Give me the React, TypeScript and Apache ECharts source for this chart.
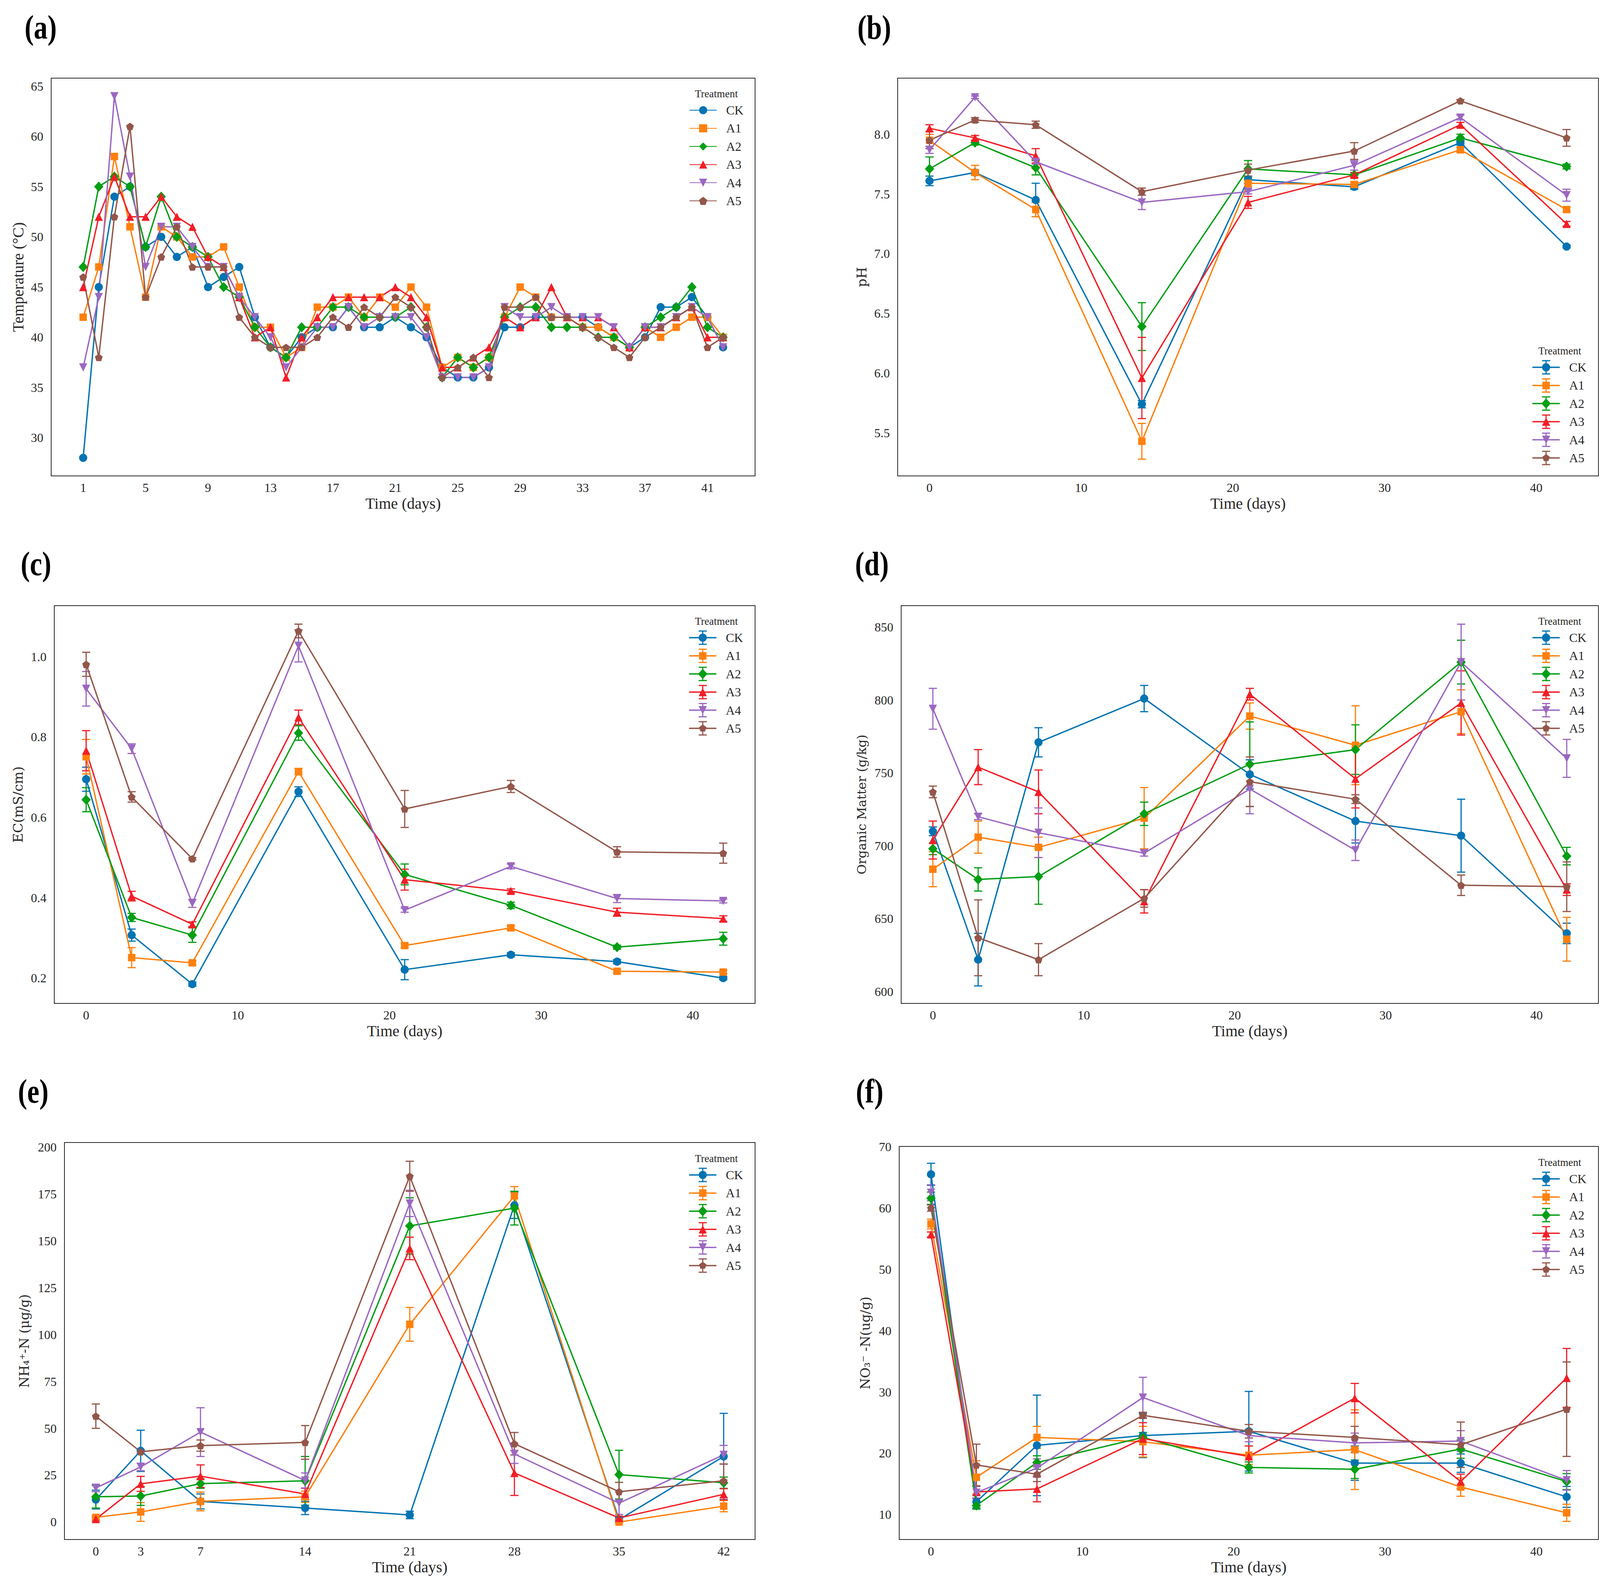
import React, { useEffect, useRef } from "react";
import * as echarts from "echarts";

// ---------------- data ----------------
const TREATMENTS = ["CK", "A1", "A2", "A3", "A4", "A5"];

const DAYS_TEMP = [1, 2, 3, 4, 5, 6, 7, 8, 9, 10, 11, 12, 13, 14, 15, 16, 17, 18, 19, 20, 21, 22, 23, 24, 25, 26, 27, 28, 29, 30, 31, 32, 33, 34, 35, 36, 37, 38, 39, 40, 41, 42];
const DAYS = [0, 3, 7, 14, 21, 28, 35, 42];

// (a) temperature
const TEMP_CK = [28, 45, 54, 55, 49, 50, 48, 49, 45, 46, 47, 42, 39, 38, 40, 41, 41, 43, 41, 41, 42, 41, 40, 37, 36, 36, 37, 41, 41, 42, 42, 42, 42, 41, 40, 39, 40, 43, 43, 44, 42, 39];
const TEMP_A1 = [42, 47, 58, 51, 44, 51, 50, 48, 48, 49, 45, 41, 41, 38, 39, 43, 43, 44, 42, 44, 43, 45, 43, 37, 38, 37, 38, 42, 45, 44, 42, 42, 41, 41, 40, 39, 41, 40, 41, 42, 42, 40];
const TEMP_A2 = [47, 55, 56, 55, 49, 54, 50, 49, 48, 45, 44, 41, 39, 38, 41, 41, 43, 43, 42, 42, 42, 43, 41, 36, 38, 37, 38, 42, 43, 43, 41, 41, 41, 40, 40, 39, 41, 42, 43, 45, 41, 40];
const TEMP_A3 = [45, 52, 56, 52, 52, 54, 52, 51, 48, 47, 44, 40, 41, 36, 40, 42, 44, 44, 44, 44, 45, 44, 42, 37, 37, 38, 39, 42, 41, 42, 45, 42, 42, 42, 41, 39, 41, 41, 42, 43, 40, 40];
const TEMP_A4 = [37, 44, 64, 56, 47, 51, 51, 49, 47, 47, 44, 42, 40, 37, 39, 41, 41, 43, 41, 42, 42, 42, 40, 36, 36, 36, 37, 43, 42, 42, 43, 42, 42, 42, 41, 39, 41, 41, 42, 43, 42, 39];
const TEMP_A5 = [46, 38, 52, 61, 44, 48, 51, 47, 47, 47, 42, 40, 39, 39, 39, 40, 42, 41, 43, 42, 44, 43, 41, 36, 37, 38, 36, 43, 43, 44, 42, 42, 41, 40, 39, 38, 40, 41, 42, 43, 39, 40];

// (b) pH
const PH_CK = [7.61, 7.68, 7.45, 5.74, 7.62, 7.56, 7.93, 7.06];
const PH_A1 = [7.95, 7.68, 7.37, 5.43, 7.59, 7.58, 7.87, 7.37];
const PH_A2 = [7.71, 7.93, 7.72, 6.39, 7.71, 7.66, 7.97, 7.73];
const PH_A3 = [8.05, 7.97, 7.82, 5.96, 7.43, 7.66, 8.08, 7.25];
const PH_A4 = [7.87, 8.31, 7.77, 7.43, 7.52, 7.74, 8.14, 7.49];
const PH_A5 = [7.95, 8.12, 8.08, 7.52, 7.7, 7.86, 8.28, 7.97];
const PH_CK_SD = [0.04, 0.02, 0.14, 0.03, 0.03, 0.02, 0.02, 0.01];
const PH_A1_SD = [0.05, 0.06, 0.06, 0.15, 0.03, 0.02, 0.02, 0.02];
const PH_A2_SD = [0.1, 0.02, 0.06, 0.2, 0.07, 0.02, 0.03, 0.02];
const PH_A3_SD = [0.03, 0.02, 0.06, 0.34, 0.05, 0.02, 0.02, 0.02];
const PH_A4_SD = [0.03, 0.01, 0.02, 0.06, 0.02, 0.04, 0.02, 0.05];
const PH_A5_SD = [0.07, 0.02, 0.03, 0.03, 0.05, 0.07, 0.01, 0.07];

// (c) EC
const EC_CK = [0.695, 0.307, 0.185, 0.664, 0.221, 0.258, 0.241, 0.2];
const EC_A1 = [0.751, 0.251, 0.238, 0.714, 0.281, 0.325, 0.217, 0.215];
const EC_A2 = [0.644, 0.351, 0.307, 0.81, 0.458, 0.381, 0.277, 0.298];
const EC_A3 = [0.766, 0.404, 0.334, 0.849, 0.445, 0.417, 0.364, 0.348];
const EC_A4 = [0.92, 0.771, 0.386, 1.027, 0.369, 0.478, 0.398, 0.392];
const EC_A5 = [0.981, 0.651, 0.497, 1.064, 0.621, 0.677, 0.514, 0.511];
const EC_CK_SD = [0.03, 0.015, 0.005, 0.012, 0.025, 0.005, 0.005, 0.004];
const EC_A1_SD = [0.043, 0.025, 0.005, 0.008, 0.005, 0.005, 0.005, 0.004];
const EC_A2_SD = [0.03, 0.01, 0.018, 0.018, 0.026, 0.008, 0.005, 0.016];
const EC_A3_SD = [0.05, 0.012, 0.006, 0.018, 0.026, 0.005, 0.01, 0.007];
const EC_A4_SD = [0.043, 0.012, 0.01, 0.04, 0.005, 0.006, 0.01, 0.005];
const EC_A5_SD = [0.03, 0.013, 0.003, 0.017, 0.046, 0.015, 0.013, 0.025];

// (d) organic matter
const OM_CK = [710, 622, 771, 801, 749, 717, 707, 640];
const OM_A1 = [684, 706, 699, 719, 789, 769, 792, 636];
const OM_A2 = [698, 677, 679, 722, 756, 766, 826, 693];
const OM_A3 = [704, 754, 737, 662, 804, 746, 798, 670];
const OM_A4 = [794, 720, 709, 695, 739, 697, 826, 760];
const OM_A5 = [737, 637, 622, 664, 744, 732, 673, 672];
const OM_CK_SD = [3, 18, 10, 9, 10, 15, 25, 7];
const OM_A1_SD = [12, 11, 7, 21, 9, 27, 15, 15];
const OM_A2_SD = [4, 8, 19, 8, 29, 17, 15, 6];
const OM_A3_SD = [13, 12, 15, 8, 4, 20, 22, 4];
const OM_A4_SD = [14, 2, 17, 2, 17, 7, 26, 13];
const OM_A5_SD = [4, 26, 11, 6, 17, 3, 7, 17];

// (e) NH4+-N
const NH_CK = [12, 38, 11, 7.5, 3.8, 169, 1.3, 35];
const NH_A1 = [2.5, 5.4, 11, 13.5, 105.5, 174, 0, 8.5];
const NH_A2 = [13.5, 13.9, 20.5, 22, 158, 167.5, 25.3, 21];
const NH_A3 = [1.6, 20.4, 24.5, 15, 146, 26.2, 2.2, 14.8];
const NH_A4 = [18.2, 29.4, 48, 22.2, 170, 36.3, 10.1, 35.9];
const NH_A5 = [56.5, 37.5, 40.8, 42.5, 184.5, 41.8, 16.2, 22];
const NH_CK_SD = [5, 11, 4, 3.5, 2, 7, 1, 23];
const NH_A1_SD = [1, 5, 5, 3, 9, 5, 0.5, 3];
const NH_A2_SD = [6, 5, 2.5, 13, 15, 9, 13, 3];
const NH_A3_SD = [1, 4, 6, 3, 6, 12, 1, 3];
const NH_A4_SD = [2, 2, 13, 4, 7, 5, 6, 5];
const NH_A5_SD = [6.5, 1, 3, 9, 8, 6, 5, 9];

// (f) NO3--N
const NO_CK = [65.5, 12.1, 21.3, 22.9, 23.6, 18.4, 18.4, 12.9];
const NO_A1 = [57.4, 16.1, 22.6, 21.9, 19.7, 20.6, 14.5, 10.3];
const NO_A2 = [61.6, 11.5, 18.5, 22.6, 17.7, 17.4, 20.7, 15.4];
const NO_A3 = [55.7, 13.7, 14.2, 22.4, 19.5, 29.0, 15.4, 32.3];
const NO_A4 = [62.5, 13.6, 17.6, 29.1, 22.9, 21.7, 22.0, 15.6];
const NO_A5 = [60.0, 18.1, 16.6, 26.2, 23.6, 22.6, 21.4, 27.2];
const NO_CK_SD = [1.8, 1, 8.2, 3.6, 6.5, 2.8, 1.5, 1.7];
const NO_A1_SD = [0.8, 2.7, 1.8, 2.5, 1.5, 6.5, 1.5, 1.4];
const NO_A2_SD = [1, 0.6, 1.1, 0.8, 0.9, 1.5, 1.5, 1.3];
const NO_A3_SD = [0.4, 1, 2.1, 2.6, 1.7, 2.4, 1.2, 4.8];
const NO_A4_SD = [1.3, 1, 1.5, 3.3, 1, 1.6, 1.7, 1.6];
const NO_A5_SD = [0.5, 3.4, 1.2, 0.5, 1.1, 1.8, 3.7, 7.7];

// tick labels
const X_TICKS_TEMP = [1, 5, 9, 13, 17, 21, 25, 29, 33, 37, 41];
const X_TICKS_DEC = [0, 10, 20, 30, 40];
const X_TICKS_DAYS = [0, 3, 7, 14, 21, 28, 35, 42];
const Y_TICKS_TEMP = [30, 35, 40, 45, 50, 55, 60, 65];
const Y_TICKS_PH = [5.5, 6.0, 6.5, 7.0, 7.5, 8.0];
const Y_TICKS_EC = [0.2, 0.4, 0.6, 0.8, 1.0];
const Y_TICKS_OM = [600, 650, 700, 750, 800, 850];
const Y_TICKS_NH = [0, 25, 50, 75, 100, 125, 150, 175, 200];
const Y_TICKS_NO = [10, 20, 30, 40, 50, 60, 70];

// ---------------- styles ----------------
const COLORS = ["#0173b2", "#ff800e", "#029e13", "#f21e26", "#9b67c1", "#93564a"];
const TRI_DOWN = "path://M-1,-1 L1,-1 L0,1 Z";
const PENTAGON = "path://M0,-1 L0.951,-0.309 L0.588,0.809 L-0.588,0.809 L-0.951,-0.309 Z";
const SYMBOLS = ["circle", "rect", "diamond", "triangle", TRI_DOWN, PENTAGON];
const SYMBOL_SIZES: any[] = [21, 19, [24, 26], 21, 21, [20, 19]];
const LINE_W = 3.5;

const BASE_ICON = "M0,16.75 H70 V20.25 H0 Z M33.5,1.5 H36.5 V35.5 H33.5 Z M24.5,0 H45.5 V3 H24.5 Z M24.5,34 H45.5 V37 H24.5 Z";
const MARKER_ICONS = [
  "M45.5,18.5 A10.5,10.5 0 1,1 24.5,18.5 A10.5,10.5 0 1,1 45.5,18.5 Z",
  "M25.5,9 H44.5 V28 H25.5 Z",
  "M35,5.5 L47,18.5 L35,31.5 L23,18.5 Z",
  "M35,8 L45.5,29 L24.5,29 Z",
  "M24.5,8 L45.5,8 L35,29 Z",
  "M35,8.5 L44.5,15.4 L40.9,26.6 L29.1,26.6 L25.5,15.4 Z",
];
const ERR_ICONS = MARKER_ICONS.map((m) => "path://" + BASE_ICON + " " + m);

const SERIF = "Liberation Serif";
const MATH = "DejaVu Serif";
const TXT = "#262626";

const PANELS = [
  {
    label: "(a)", labelPos: [63, 70], grid: [131, 200, 1802, 1018], xr: [-1.05, 44.05], xt: X_TICKS_TEMP,
    yr: [26.2, 65.8], yt: Y_TICKS_TEMP, dec: 0, yName: "Temperature (°C)", yFont: SERIF, yFs: 40, yGap: 65,
    xs: DAYS_TEMP, means: [TEMP_CK, TEMP_A1, TEMP_A2, TEMP_A3, TEMP_A4, TEMP_A5], sds: null as any, row: 282,
  },
  {
    label: "(b)", labelPos: [2195, 70], grid: [2298, 200, 1794, 1018], xr: [-2.1, 44.1], xt: X_TICKS_DEC,
    yr: [5.14, 8.47], yt: Y_TICKS_PH, dec: 1, yName: "pH", yFont: MATH, yFs: 34, yGap: 75,
    xs: DAYS, means: [PH_CK, PH_A1, PH_A2, PH_A3, PH_A4, PH_A5], sds: [PH_CK_SD, PH_A1_SD, PH_A2_SD, PH_A3_SD, PH_A4_SD, PH_A5_SD], row: 940,
  },
  {
    label: "(c)", labelPos: [53, 1443], grid: [139, 1550, 1794, 1018], xr: [-2.1, 44.1], xt: X_TICKS_DEC,
    yr: [0.137, 1.127], yt: Y_TICKS_EC, dec: 1, yName: "EC(mS/cm)", yFont: MATH, yFs: 34, yGap: 76,
    xs: DAYS, means: [EC_CK, EC_A1, EC_A2, EC_A3, EC_A4, EC_A5], sds: [EC_CK_SD, EC_A1_SD, EC_A2_SD, EC_A3_SD, EC_A4_SD, EC_A5_SD], row: 1632,
  },
  {
    label: "(d)", labelPos: [2189, 1443], grid: [2307, 1550, 1785, 1018], xr: [-2.1, 44.1], xt: X_TICKS_DEC,
    yr: [592, 864.7], yt: Y_TICKS_OM, dec: 0, yName: "Organic Matter (g/kg)", yFont: MATH, yFs: 32, yGap: 85,
    xs: DAYS, means: [OM_CK, OM_A1, OM_A2, OM_A3, OM_A4, OM_A5], sds: [OM_CK_SD, OM_A1_SD, OM_A2_SD, OM_A3_SD, OM_A4_SD, OM_A5_SD], row: 1632,
  },
  {
    label: "(e)", labelPos: [46, 2793], grid: [165, 2924, 1768, 1016], xr: [-2.1, 44.1], xt: X_TICKS_DAYS,
    yr: [-9.3, 202.5], yt: Y_TICKS_NH, dec: 0, yName: "NH₄⁺-N (μg/g)", yFont: MATH, yFs: 33, yGap: 86,
    xs: DAYS, means: [NH_CK, NH_A1, NH_A2, NH_A3, NH_A4, NH_A5], sds: [NH_CK_SD, NH_A1_SD, NH_A2_SD, NH_A3_SD, NH_A4_SD, NH_A5_SD], row: 3007,
  },
  {
    label: "(f)", labelPos: [2191, 2793], grid: [2302, 2934, 1790, 1006], xr: [-2.1, 44.1], xt: X_TICKS_DEC,
    yr: [5.95, 70.05], yt: Y_TICKS_NO, dec: 0, yName: "NO₃⁻ -N(ug/g)", yFont: MATH, yFs: 33, yGap: 70,
    xs: DAYS, means: [NO_CK, NO_A1, NO_A2, NO_A3, NO_A4, NO_A5], sds: [NO_CK_SD, NO_A1_SD, NO_A2_SD, NO_A3_SD, NO_A4_SD, NO_A5_SD], row: 3017,
  },
];

function errRender(color: string) {
  return (params: any, api: any) => {
    const x = api.value(0);
    const y = api.value(1);
    const e = api.value(2);
    const top = api.coord([x, y + e]);
    const bot = api.coord([x, y - e]);
    const hw = 10.5;
    const style = { stroke: color, lineWidth: 3, fill: "none" };
    return {
      type: "group",
      children: [
        { type: "line", shape: { x1: top[0], y1: top[1], x2: bot[0], y2: bot[1] }, style },
        { type: "line", shape: { x1: top[0] - hw, y1: top[1], x2: top[0] + hw, y2: top[1] }, style },
        { type: "line", shape: { x1: bot[0] - hw, y1: bot[1], x2: bot[0] + hw, y2: bot[1] }, style },
      ],
    };
  };
}

function buildOption() {
  const grid: any[] = [];
  const xAxis: any[] = [];
  const yAxis: any[] = [];
  const series: any[] = [];
  const legend: any[] = [];
  const graphic: any[] = [];

  PANELS.forEach((p, pi) => {
    const [gl, gt, gw, gh] = p.grid;
    grid.push({
      left: gl, top: gt, width: gw, height: gh, show: true, borderColor: TXT, borderWidth: 2,
      backgroundColor: "#ffffff", containLabel: false, outerBoundsMode: "none",
    });
    xAxis.push({
      type: "value", gridIndex: pi, min: p.xr[0], max: p.xr[1],
      axisLine: { show: false }, axisTick: { show: false }, splitLine: { show: false },
      axisLabel: { customValues: p.xt, fontSize: 32, fontFamily: SERIF, color: TXT, margin: 14 },
      name: "Time (days)", nameLocation: "middle", nameGap: 50,
      nameTextStyle: { fontSize: 40, fontFamily: SERIF, color: TXT },
    });
    yAxis.push({
      type: "value", gridIndex: pi, min: p.yr[0], max: p.yr[1],
      axisLine: { show: false }, axisTick: { show: false }, splitLine: { show: false },
      axisLabel: {
        customValues: p.yt, fontSize: 32, fontFamily: SERIF, color: TXT, margin: 20,
        formatter: (v: number) => v.toFixed(p.dec),
      },
      name: p.yName, nameLocation: "middle", nameGap: p.yGap, nameRotate: 90,
      nameTextStyle: { fontSize: p.yFs, fontFamily: p.yFont, color: TXT },
    });

    TREATMENTS.forEach((t, ti) => {
      const color = COLORS[ti];
      if (p.sds) {
        series.push({
          type: "custom", name: t + "-err-" + pi, xAxisIndex: pi, yAxisIndex: pi, silent: true,
          dimensions: ["x", "y", "e"], encode: { x: 0, y: 1 },
          data: p.xs.map((d: number, k: number) => [d, p.means[ti][k], p.sds[ti][k]]),
          renderItem: errRender(color), z: 2,
        });
      }
      series.push({
        type: "line", name: t, xAxisIndex: pi, yAxisIndex: pi,
        data: p.xs.map((d: number, k: number) => [d, p.means[ti][k]]),
        symbol: SYMBOLS[ti], symbolSize: SYMBOL_SIZES[ti], showSymbol: true, showAllSymbol: true,
        lineStyle: { width: LINE_W, color },
        itemStyle: { color, borderWidth: 0 },
        emphasis: { disabled: true },
        z: 3,
      });
    });

    const right = gl + gw;
    if (p.sds) {
      const H = 37;
      legend.push({
        orient: "vertical", left: right - 169, top: p.row - H / 2, padding: 0,
        itemWidth: 70, itemHeight: H, itemGap: 46.4 - H, selectedMode: false,
        itemStyle: { borderWidth: 0 },
        textStyle: { fontSize: 32, fontFamily: SERIF, color: TXT, lineHeight: H, padding: [0, 0, 0, 19] },
        data: TREATMENTS.map((t, ti) => ({ name: t, icon: ERR_ICONS[ti] })),
      });
    } else {
      const H = 26;
      legend.push({
        orient: "vertical", left: right - 169, top: p.row - 16, padding: 0,
        itemWidth: 70, itemHeight: H, itemGap: 46.4 - 32, selectedMode: false,
        itemStyle: { borderWidth: 0 },
        textStyle: { fontSize: 32, fontFamily: SERIF, color: TXT, padding: [0, 0, 0, 19] },
        data: TREATMENTS.map((t) => ({ name: t })),
      });
    }

    graphic.push({
      type: "text", x: p.labelPos[0], y: p.labelPos[1], scaleX: 0.82,
      style: {
        text: p.label, fontSize: 86, fontWeight: "bold", fontFamily: SERIF, fill: "#000",
        align: "left", verticalAlign: "middle", textAlign: "left", textVerticalAlign: "middle",
      },
    });
    graphic.push({
      type: "text", x: right - 99, y: p.row - 42,
      style: {
        text: "Treatment", fontSize: 27, fontFamily: SERIF, fill: TXT,
        align: "center", verticalAlign: "middle", textAlign: "center", textVerticalAlign: "middle",
      },
    });
  });

  return {
    animation: false,
    backgroundColor: "#ffffff",
    textStyle: { fontFamily: SERIF },
    grid, xAxis, yAxis, series, legend, graphic,
  };
}

export default function App() {
  const ref = useRef<HTMLDivElement>(null);
  useEffect(() => {
    const chart = echarts.init(ref.current as HTMLDivElement, null, { renderer: "svg", width: 4137, height: 4059 });
    chart.setOption(buildOption() as any);
    return () => chart.dispose();
  }, []);
  return (
    <div
      ref={ref}
      style={{ position: "absolute", left: 0, top: 0, width: 4137, height: 4059, background: "#ffffff" }}
    />
  );
}
